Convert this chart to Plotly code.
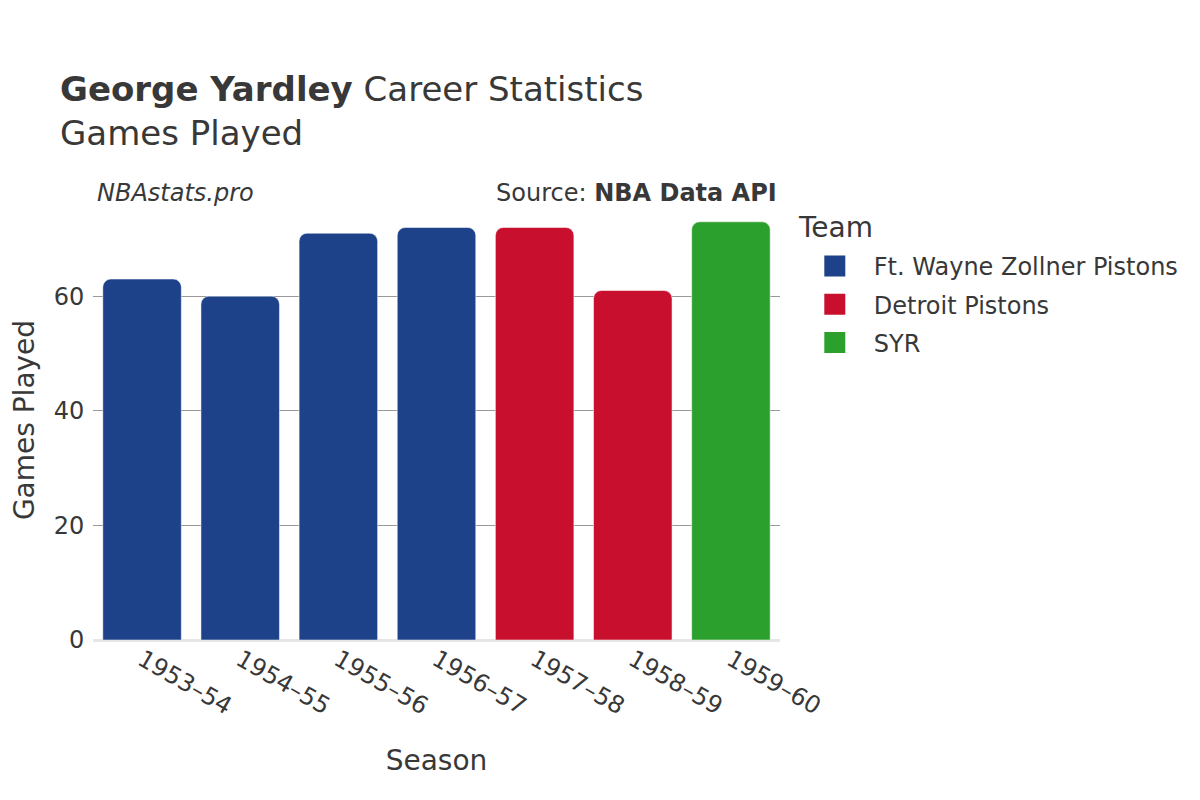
import plotly.graph_objects as go

seasons = ["1953–54", "1954–55", "1955–56", "1956–57", "1957–58", "1958–59", "1959–60"]
teams = ["Ft. Wayne Zollner Pistons", "Ft. Wayne Zollner Pistons", "Ft. Wayne Zollner Pistons",
         "Ft. Wayne Zollner Pistons", "Detroit Pistons", "Detroit Pistons", "SYR"]
games = [63, 60, 71, 72, 72, 61, 73]
team_order = ["Ft. Wayne Zollner Pistons", "Detroit Pistons", "SYR"]
team_colors = {"Ft. Wayne Zollner Pistons": "#1d428a", "Detroit Pistons": "#c8102e", "SYR": "#2ca02c"}
legend_title = "Team"

FONT = "DejaVu Sans"
TXT = "#383838"
fig = go.Figure()
for t in team_order:
    xs = [s for s, tm in zip(seasons, teams) if tm == t]
    ys = [g for g, tm in zip(games, teams) if tm == t]
    fig.add_trace(go.Bar(
        x=xs, y=ys, name=t, legendgroup=t, showlegend=False,
        marker=dict(color=team_colors[t], line=dict(color="rgba(255,255,255,0.5)", width=1)),
    ))
# legend-only entries with larger swatches
for t in team_order:
    fig.add_trace(go.Scatter(
        x=[None], y=[None], mode="markers", name=t, legendgroup=t,
        marker=dict(symbol="square", size=16, color=team_colors[t],
                    line=dict(color=team_colors[t], width=5)),
    ))

fig.update_layout(
    width=1200, height=800,
    paper_bgcolor="white", plot_bgcolor="white",
    font=dict(family=FONT, color=TXT, size=24),
    margin=dict(l=85, r=428, t=192, b=168, autoexpand=False),
    bargap=0.2, barcornerradius=8,
    title=dict(
        text="<b>George Yardley</b> Career Statistics<br>Games Played",
        x=52 / 1200, xref="container", xanchor="left",
        y=0.884, yref="container", yanchor="top",
        font=dict(size=34, color=TXT, family=FONT),
    ),
    legend=dict(
        font=dict(size=24), x=1.023, y=0.9, yanchor="top",
        tracegroupgap=4, itemsizing="trace", itemwidth=68,
    ),
    xaxis=dict(
        title=dict(text="Season", font=dict(size=28), standoff=30),
        categoryorder="array", categoryarray=seasons,
        tickangle=30, tickfont=dict(size=24), showgrid=False,
        ticks="", showline=False, automargin=True,
    ),
    yaxis=dict(
        title=dict(text="Games Played", font=dict(size=28)),
        range=[0, 76.8], tickvals=[0, 20, 40, 60], tickfont=dict(size=24),
        showgrid=True, gridcolor="#999999", gridwidth=1,
        zeroline=True, zerolinecolor="#e6e6e6", zerolinewidth=3,
        ticks="outside", ticklen=3, tickcolor="rgba(0,0,0,0)",
        automargin=False,
    ),
    annotations=[
        dict(text="<i>NBAstats.pro</i>", x=0.0, xref="paper", y=1.0, yref="paper",
             xanchor="left", yanchor="middle", showarrow=False, yshift=7,
             font=dict(size=24, color=TXT, family=FONT), xshift=2),
        dict(text="Source: <b>NBA Data API</b>", x=1.0, xref="paper", y=1.0, yref="paper",
             xanchor="right", yanchor="middle", showarrow=False, yshift=7,
             font=dict(size=24, color=TXT, family=FONT), xshift=-1),
        dict(text=legend_title, x=1.0, xref="paper", y=1.0, yref="paper",
             xanchor="left", yanchor="middle", showarrow=False, xshift=16, yshift=-27,
             font=dict(size=28, color=TXT, family=FONT)),
    ],
)

fig.write_html("out.html")
